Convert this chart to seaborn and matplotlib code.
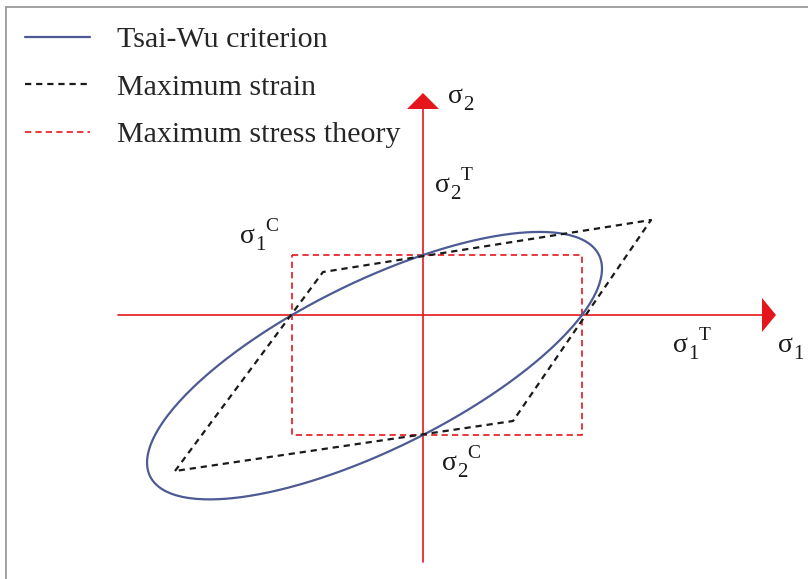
import numpy as np
import pandas as pd
import matplotlib
matplotlib.use("Agg")
import matplotlib.pyplot as plt
from matplotlib.patches import Polygon
from matplotlib.lines import Line2D
import seaborn as sns

# Lamina strengths (stress units of the sketch) and Tsai-Wu interaction term
strength_xt = 159.0   # sigma1 tensile
strength_xc = 131.0   # sigma1 compressive
strength_yt = 60.0    # sigma2 tensile
strength_yc = 120.0   # sigma2 compressive
f12_star = -0.725     # normalised interaction coefficient

# Maximum strain envelope corners (sigma1, sigma2)
strain_s1 = [-248, -100, 228, 90, -248]
strain_s2 = [-156, 43, 95, -106, -156]

series_names = ["Tsai-Wu criterion", "Maximum strain", "Maximum stress theory"]

sns.set_theme(style="white")
plt.rcParams["font.family"] = ["Liberation Serif", "DejaVu Serif"]
plt.rcParams["lines.scale_dashes"] = False

# Tsai-Wu coefficients
F1 = 1 / strength_xt - 1 / strength_xc
F2 = 1 / strength_yt - 1 / strength_yc
F11 = 1 / (strength_xt * strength_xc)
F22 = 1 / (strength_yt * strength_yc)
F12 = f12_star * np.sqrt(F11 * F22)

theta = np.linspace(0, 2 * np.pi, 721)
c, s = np.cos(theta), np.sin(theta)
A = F11 * c**2 + F22 * s**2 + 2 * F12 * c * s
B = F1 * c + F2 * s
r = (-B + np.sqrt(B**2 + 4 * A)) / (2 * A)
tsai = pd.DataFrame({"s1": r * c, "s2": r * s})

stress = pd.DataFrame({
    "s1": [-strength_xc, strength_xt, strength_xt, -strength_xc, -strength_xc],
    "s2": [strength_yt, strength_yt, -strength_yc, -strength_yc, strength_yt],
})
strain = pd.DataFrame({"s1": strain_s1, "s2": strain_s2})

fig = plt.figure(figsize=(8.08, 5.79), dpi=100)
ax = fig.add_axes([0, 0, 1, 1])

red = "#e4161b"
ink = "#1a1a1a"

# Coordinate axes with arrow heads
ax.plot([-305, 339], [0, 0], color=red, lw=1.2, zorder=1)
ax.add_patch(Polygon([[339, 17], [353, 0], [339, -17]], closed=True,
                     color=red, lw=0, zorder=1))
ax.plot([0, 0], [-247, 206], color=red, lw=1.2, zorder=1)
ax.add_patch(Polygon([[-16, 206], [0, 222], [16, 206]], closed=True,
                     color=red, lw=0, zorder=1))

sns.lineplot(data=tsai, x="s1", y="s2", sort=False, estimator=None,
             color="#4d5a94", lw=1.6, ax=ax, label=series_names[0], zorder=3)
sns.lineplot(data=strain, x="s1", y="s2", sort=False, estimator=None,
             color=ink, lw=1.6, linestyle=(0, (4.5, 3.5)), ax=ax,
             label=series_names[1], zorder=4)
sns.lineplot(data=stress, x="s1", y="s2", sort=False, estimator=None,
             color=red, lw=1.2, linestyle=(0, (4.5, 3.0)), ax=ax,
             label=series_names[2], zorder=2)
ax.set_xlim(-423, 385)
ax.set_ylim(-264, 315)
ax.axis("off")

handles, labels = ax.get_legend_handles_labels()
ax.legend(handles, labels, loc="upper left",
          bbox_to_anchor=(25 / 808, 1 - 26 / 579),
          bbox_transform=fig.transFigure, frameon=False, fontsize=21.6,
          handlelength=2.15, handletextpad=0.93, labelspacing=0.69,
          borderpad=0, borderaxespad=0)


def sigma_label(x, y, sub, sup=None):
    ax.text(x, y, "σ", fontsize=20, ha="left", va="baseline", color=ink)
    ax.annotate(sub, (x, y), xytext=(15.5 * 0.72, -7 * 0.72),
                textcoords="offset points", fontsize=15, ha="left",
                va="baseline", color=ink)
    if sup:
        ax.annotate(sup, (x, y), xytext=(25.5 * 0.72, 12 * 0.72),
                    textcoords="offset points", fontsize=14, ha="left",
                    va="baseline", color=ink)


sigma_label(448 - 423, 315 - 103, "2")
sigma_label(435 - 423, 315 - 192, "2", "T")
sigma_label(240 - 423, 315 - 243, "1", "C")
sigma_label(673 - 423, 315 - 352, "1", "T")
sigma_label(778 - 423, 315 - 352, "1")
sigma_label(442 - 423, 315 - 470, "2", "C")

# Frame edges along the top and left
fig.add_artist(Line2D([6 / 808, 1], [1 - 7 / 579, 1 - 7 / 579],
                      transform=fig.transFigure, color="#9a9a9a", lw=1.3))
fig.add_artist(Line2D([6 / 808, 6 / 808], [0, 1 - 7 / 579],
                      transform=fig.transFigure, color="#9a9a9a", lw=1.3))

fig.savefig("out.png", dpi=100, facecolor="white")
